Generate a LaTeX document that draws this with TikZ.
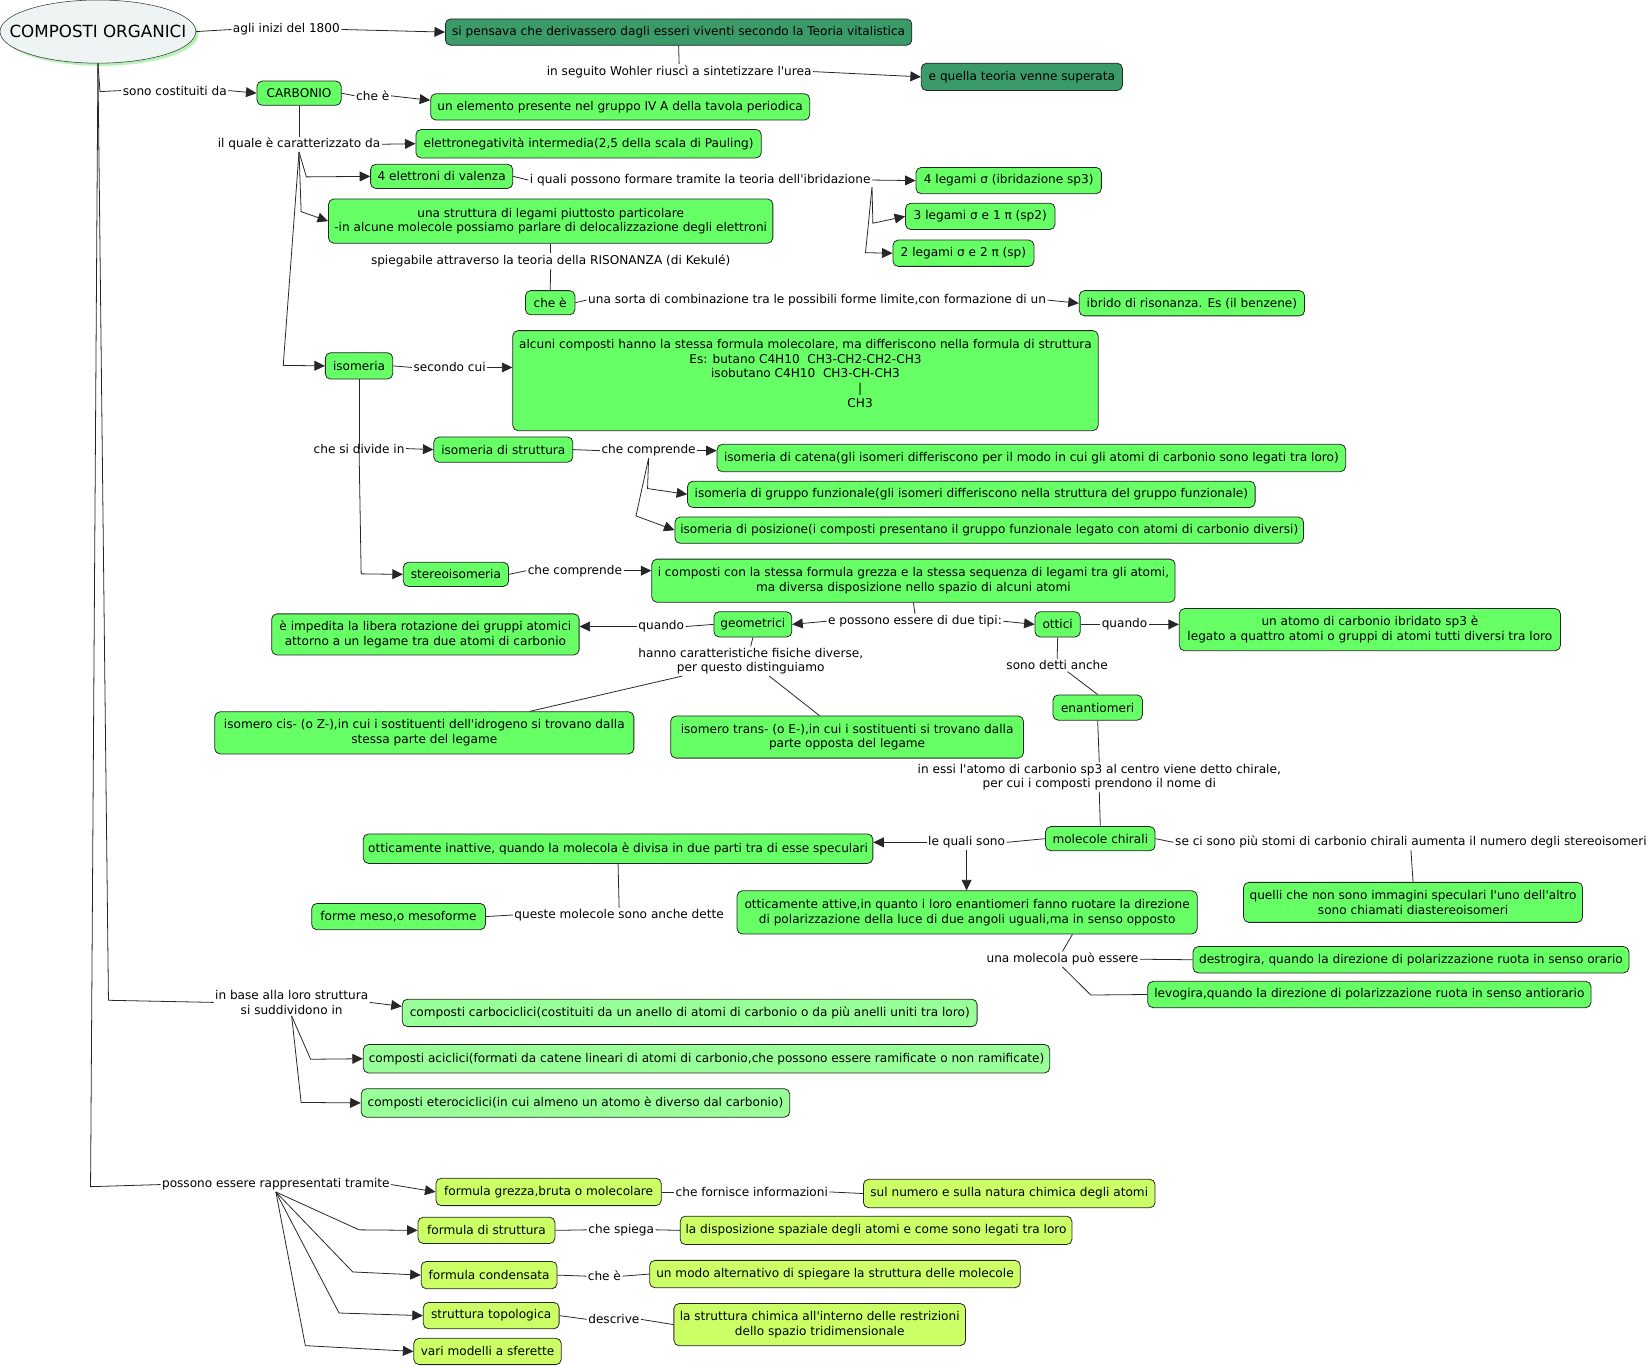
\documentclass[tikz,border=0pt]{standalone}
\usepackage{fontspec}
\setmainfont{DejaVu Sans}[Ligatures=TeXOff]
\usepackage{xcolor}
\usepackage{tikz}
\usetikzlibrary{arrows.meta,shapes.geometric,shadows}
\definecolor{darkleaf}{HTML}{3A9A68}
\definecolor{leaf}{HTML}{66FF66}
\definecolor{paleleaf}{HTML}{99FF99}
\definecolor{lemon}{HTML}{CCFF66}
\definecolor{rootfill}{HTML}{EEF4F3}
\definecolor{rootshade}{HTML}{B5F2B5}

\begin{document}
\begin{tikzpicture}[x=0.8pt,y=-0.8pt,font=\fontsize{9.2}{11.2}\selectfont,
  concept/.style={draw=black!85,rounded corners=4pt,inner xsep=2pt,inner ysep=0pt,align=center,line width=0.6pt},
  corners/.style n args={4}{minimum width={(#3-#1)*0.8pt},minimum height={(#4-#2)*0.8pt},at={({(#1+#3)/2},{(#2+#4)/2})}},
  darkbox/.style={concept,fill=darkleaf},
  greenbox/.style={concept,fill=leaf},
  palebox/.style={concept,fill=paleleaf},
  lemonbox/.style={concept,fill=lemon},
  lbl/.style={inner sep=1pt,align=center},
  ln/.style={line width=0.6pt,black!85},
  ar/.style={ln,-{Triangle[length=8pt,width=7.5pt]}}]
\useasboundingbox (0,0) rectangle (1568,1298);
\node[ellipse,draw=black!80,fill=rootfill,minimum width=148.8pt,minimum height=48pt,inner sep=0pt,
  font=\fontsize{12.7}{15}\selectfont,
  drop shadow={fill=rootshade,opacity=1,shadow xshift=2pt,shadow yshift=-2pt}] (root) at (93,30) {\makebox[0pt]{COMPOSTI ORGANICI}};
\node[darkbox,corners={423}{18}{866}{43}] (vital) {si pensava che derivassero dagli esseri viventi secondo la Teoria vitalistica};
\node[darkbox,corners={875}{60}{1066}{86}] (superata) {e quella teoria venne superata};
\node[greenbox,corners={244}{77}{324}{100}] (carbonio) {CARBONIO};
\node[greenbox,corners={409}{89}{769}{114}] (elemento) {un elemento presente nel gruppo IV A della tavola periodica};
\node[greenbox,corners={395}{123}{723}{150}] (elettro) {elettronegatività intermedia(2,5 della scala di Pauling)};
\node[greenbox,corners={352}{156}{487}{179}] (valenza) {4 elettroni di valenza};
\node[greenbox,corners={870}{159}{1046}{184}] (sigmaA) {4 legami σ (ibridazione sp3)};
\node[greenbox,corners={860}{193}{1002}{218}] (sigmaB) {3 legami σ e 1 π (sp2)};
\node[greenbox,corners={848}{228}{982}{253}] (sigmaC) {2 legami σ e 2 π (sp)};
\node[greenbox,corners={312}{189}{734}{231}] (strutt) {una struttura di legami piuttosto particolare\\-in alcune molecole possiamo parlare di delocalizzazione degli elettroni};
\node[greenbox,corners={499}{276}{546}{299}] (cheE) {che è};
\node[greenbox,corners={1025}{276}{1239}{300}] (ibrido) {ibrido di risonanza. Es (il benzene)};
\node[greenbox,corners={309}{335}{373}{360}] (isomeria) {isomeria};
\node[greenbox,corners={487}{314}{1043}{409}] (alcuni) {alcuni composti hanno la stessa formula molecolare, ma differiscono nella formula di struttura\\Es: butano C4H10\ \ CH3-CH2-CH2-CH3\\isobutano C4H10\ \ CH3-CH-CH3\\\hspace*{83pt}|\\\hspace*{83pt}CH3\\ };
\node[greenbox,corners={412}{415}{544}{439}] (strutdi) {isomeria di struttura};
\node[greenbox,corners={681}{422}{1278}{448}] (catena) {isomeria di catena(gli isomeri differiscono per il modo in cui gli atomi di carbonio sono legati tra loro)};
\node[greenbox,corners={653}{457}{1192}{482}] (gruppo) {isomeria di gruppo funzionale(gli isomeri differiscono nella struttura del gruppo funzionale)};
\node[greenbox,corners={641}{491}{1238}{516}] (posiz) {isomeria di posizione(i composti presentano il gruppo funzionale legato con atomi di carbonio diversi)};
\node[greenbox,corners={383}{534}{483}{557}] (stereo) {stereoisomeria};
\node[greenbox,corners={619}{531}{1116}{572}] (stessa) {i composti con la stessa formula grezza e la stessa sequenza di legami tra gli atomi,\\ma diversa disposizione nello spazio di alcuni atomi};
\node[greenbox,corners={678}{581}{752}{605}] (geometrici) {geometrici};
\node[greenbox,corners={258}{583}{550}{622}] (impedita) {è impedita la libera rotazione dei gruppi atomici\\attorno a un legame tra due atomi di carbonio};
\node[greenbox,corners={204}{676}{602}{716}] (cis) {isomero cis- (o Z-),in cui i sostituenti dell'idrogeno si trovano dalla\\stessa parte del legame};
\node[greenbox,corners={637}{680}{972}{720}] (trans) {isomero trans- (o E-),in cui i sostituenti si trovano dalla\\parte opposta del legame};
\node[greenbox,corners={983}{581}{1026}{605}] (ottici) {ottici};
\node[greenbox,corners={1120}{578}{1482}{618}] (atomo) {un atomo di carbonio ibridato sp3 è\\legato a quattro atomi o gruppi di atomi tutti diversi tra loro};
\node[greenbox,corners={1000}{660}{1085}{684}] (enantio) {enantiomeri};
\node[greenbox,corners={993}{785}{1097}{808}] (chirali) {molecole chirali};
\node[greenbox,corners={345}{792}{829}{820}] (inattive) {otticamente inattive, quando la molecola è divisa in due parti tra di esse speculari};
\node[greenbox,corners={296}{858}{461}{883}] (meso) {forme meso,o mesoforme};
\node[greenbox,corners={1181}{838}{1503}{876}] (diastereo) {quelli che non sono immagini speculari l'uno dell'altro\\sono chiamati diastereoisomeri};
\node[greenbox,corners={700}{846}{1137}{887}] (attive) {otticamente attive,in quanto i loro enantiomeri fanno ruotare la direzione\\di polarizzazione della luce di due angoli uguali,ma in senso opposto};
\node[greenbox,corners={1133}{899}{1547}{924}] (destro) {destrogira, quando la direzione di polarizzazione ruota in senso orario};
\node[greenbox,corners={1090}{932}{1511}{957}] (levo) {levogira,quando la direzione di polarizzazione ruota in senso antiorario};
\node[palebox,corners={382}{949}{928}{975}] (carbo) {composti carbociclici(costituiti da un anello di atomi di carbonio o da più anelli uniti tra loro)};
\node[palebox,corners={345}{992}{997}{1019}] (aciclici) {composti aciclici(formati da catene lineari di atomi di carbonio,che possono essere ramificate o non ramificate)};
\node[palebox,corners={343}{1034}{750}{1061}] (etero) {composti eterociclici(in cui almeno un atomo è diverso dal carbonio)};
\node[lemonbox,corners={414}{1119}{628}{1145}] (grezza) {formula grezza,bruta o molecolare};
\node[lemonbox,corners={820}{1120}{1097}{1147}] (numero) {sul numero e sulla natura chimica degli atomi};
\node[lemonbox,corners={397}{1156}{527}{1181}] (fstrutt) {formula di struttura};
\node[lemonbox,corners={646}{1155}{1018}{1182}] (disposiz) {la disposizione spaziale degli atomi e come sono legati tra loro};
\node[lemonbox,corners={400}{1198}{529}{1224}] (condens) {formula condensata};
\node[lemonbox,corners={617}{1197}{969}{1223}] (alternat) {un modo alternativo di spiegare la struttura delle molecole};
\node[lemonbox,corners={402}{1237}{531}{1262}] (topolog) {struttura topologica};
\node[lemonbox,corners={640}{1238}{917}{1278}] (restriz) {la struttura chimica all'interno delle restrizioni\\dello spazio tridimensionale};
\node[lemonbox,corners={393}{1271}{533}{1296}] (sferette) {vari modelli a sferette};
\node[lbl] (inizi) at (272,28) {agli inizi del 1800};
\node[lbl] (wohler) at (645,68) {in seguito Wohler riuscì a sintetizzare l'urea};
\node[lbl] (costit) at (166,86) {sono costituiti da};
\node[lbl] (cheA) at (354,91) {che è};
\node[lbl] (caratt) at (284,137) {il quale è caratterizzato da};
\node[lbl] (ibrid) at (665,171) {i quali possono formare tramite la teoria dell'ibridazione};
\node[lbl] (kekule) at (523,248) {spiegabile attraverso la teoria della RISONANZA (di Kekulé)};
\node[lbl] (sorta) at (776,285) {una sorta di combinazione tra le possibili forme limite,con formazione di un};
\node[lbl] (secondo) at (427,349) {secondo cui};
\node[lbl] (divide) at (341,426) {che si divide in};
\node[lbl] (comprA) at (616,428) {che comprende};
\node[lbl] (comprB) at (546,542) {che comprende};
\node[lbl] (tipi) at (869,590) {e possono essere di due tipi:};
\node[lbl] (quandoA) at (628,595) {quando};
\node[lbl] (fisiche) at (713,628) {hanno caratteristiche fisiche diverse,\\per questo distinguiamo};
\node[lbl] (quandoB) at (1068,593) {quando};
\node[lbl] (detti) at (1004,632) {sono detti anche};
\node[lbl] (chirale) at (1044,738) {in essi l'atomo di carbonio sp3 al centro viene detto chirale,\\per cui i composti prendono il nome di};
\node[lbl] (quali) at (918,800) {le quali sono};
\node[lbl] (dette) at (588,869) {queste molecole sono anche dette};
\node[lbl] (stomi) at (1340,800) {se ci sono più stomi di carbonio chirali aumenta il numero degli stereoisomeri};
\node[lbl] (molecola) at (1009,911) {una molecola può essere};
\node[lbl] (inbase) at (277,952) {in base alla loro struttura\\si suddividono in};
\node[lbl] (tramite) at (262,1125) {possono essere rappresentati tramite};
\node[lbl] (fornisce) at (714,1132) {che fornisce informazioni};
\node[lbl] (spiega) at (590,1168) {che spiega};
\node[lbl] (cheB) at (574,1212) {che è};
\node[lbl] (descrive) at (583,1253) {descrive};
\draw[ln] (root.east) -- (inizi.west);
\draw[ar] (inizi.east) -- (vital.west);
\draw[ln] (vital.south) -- (wohler.north);
\draw[ar] (wohler.east) -- (superata.west);
\draw[ln] (root.south) -- (95,87) -- (costit.west);
\draw[ar] (costit.east) -- (carbonio.west);
\draw[ln] (carbonio.east) -- (cheA.west);
\draw[ar] (cheA.east) -- ([yshift=5pt]elemento.west);
\draw[ln] (carbonio.south) -- (caratt.north);
\draw[ar] (caratt.east) -- (elettro.west);
\draw[ar] (caratt.south) -- (291,168) -- (valenza.west);
\draw[ar] (caratt.south) -- (286,201) -- (strutt.west);
\draw[ar] (caratt.south) -- (269,347) -- (isomeria.west);
\draw[ln] (valenza.east) -- (ibrid.west);
\draw[ar] (ibrid.east) -- (sigmaA.west);
\draw[ar] (ibrid.south east) -- (829,212) -- (sigmaB.west);
\draw[ar] (ibrid.south east) -- (822,240) -- (sigmaC.west);
\draw[ln] (strutt.south) -- (kekule.north);
\draw[ln] (kekule.south) -- (cheE.north);
\draw[ln] (cheE.east) -- (sorta.west);
\draw[ar] (sorta.east) -- (ibrido.west);
\draw[ln] (isomeria.east) -- (secondo.west);
\draw[ar] (secondo.east) -- (secondo.east -| alcuni.west);
\draw[ln] (isomeria.south) -- (divide.center);
\draw[ar] (divide.center) -- (343,545) -- (stereo.west);
\draw[ar] (divide.east) -- (strutdi.west);
\draw[ln] (strutdi.east) -- (comprA.west);
\draw[ar] (comprA.east) -- (comprA.east -| catena.west);
\draw[ar] (comprA.south) -- (615,464) -- (gruppo.west);
\draw[ar] (comprA.south) -- (604,490) -- (posiz.west);
\draw[ln] (stereo.east) -- (comprB.west);
\draw[ar] (comprB.east) -- (comprB.east -| stessa.west);
\draw[ln] (stessa.south) -- (tipi.north);
\draw[ar] (tipi.west) -- (geometrici.east);
\draw[ar] (tipi.east) -- (ottici.west);
\draw[ln] (geometrici.west) -- (quandoA.east);
\draw[ar] (quandoA.west) -- (quandoA.west -| impedita.east);
\draw[ln] (geometrici.south) -- (fisiche.north);
\draw[ln] ([xshift=-52pt]fisiche.south) -- ([xshift=80pt]cis.north);
\draw[ln] ([xshift=14pt]fisiche.south) -- ([xshift=-21pt]trans.north);
\draw[ln] (ottici.east) -- (quandoB.west);
\draw[ar] (quandoB.east) -- (quandoB.east -| atomo.west);
\draw[ln] (ottici.south) -- (detti.north);
\draw[ln] ([xshift=8pt]detti.south) -- (enantio.north);
\draw[ln] (enantio.south) -- (chirale.north);
\draw[ln] (chirale.south) -- (chirali.north);
\draw[ln] (chirali.west) -- (quali.east);
\draw[ar] (quali.west) -- (quali.west -| inattive.east);
\draw[ar] (quali.south) -- (quali.south |- attive.north);
\draw[ln] (inattive.south) -- (dette.north);
\draw[ln] (dette.west) -- (meso.east);
\draw[ln] (chirali.east) -- (stomi.west);
\draw[ln] (stomi.south) -- (diastereo.north);
\draw[ln] ([xshift=80pt]attive.south) -- (molecola.north);
\draw[ln] (molecola.east) -- (destro.west);
\draw[ln] (molecola.south) -- (1036,945) -- (levo.west);
\draw[ln] (root.south) -- (103,950) -- (inbase.west);
\draw[ar] (inbase.east) -- ([yshift=5pt]carbo.west);
\draw[ar] (inbase.south) -- (295,1006) -- (aciclici.west);
\draw[ar] (inbase.south) -- (286,1047) -- (etero.west);
\draw[ln] (root.south) -- (86,1127) -- (tramite.west);
\draw[ar] (tramite.east) -- (grezza.west);
\draw[ar] (tramite.south) -- (341,1168) -- (fstrutt.west);
\draw[ar] (tramite.south) -- (335,1208) -- (condens.west);
\draw[ar] (tramite.south) -- (322,1247) -- (topolog.west);
\draw[ar] (tramite.south) -- (290,1278) -- (sferette.west);
\draw[ln] (grezza.east) -- (fornisce.west);
\draw[ln] (fornisce.east) -- (numero.west);
\draw[ln] (fstrutt.east) -- (spiega.west);
\draw[ln] (spiega.east) -- (disposiz.west);
\draw[ln] (condens.east) -- (cheB.west);
\draw[ln] (cheB.east) -- (alternat.west);
\draw[ln] (topolog.east) -- (descrive.west);
\draw[ln] (descrive.east) -- (restriz.west);
\end{tikzpicture}
\end{document}
